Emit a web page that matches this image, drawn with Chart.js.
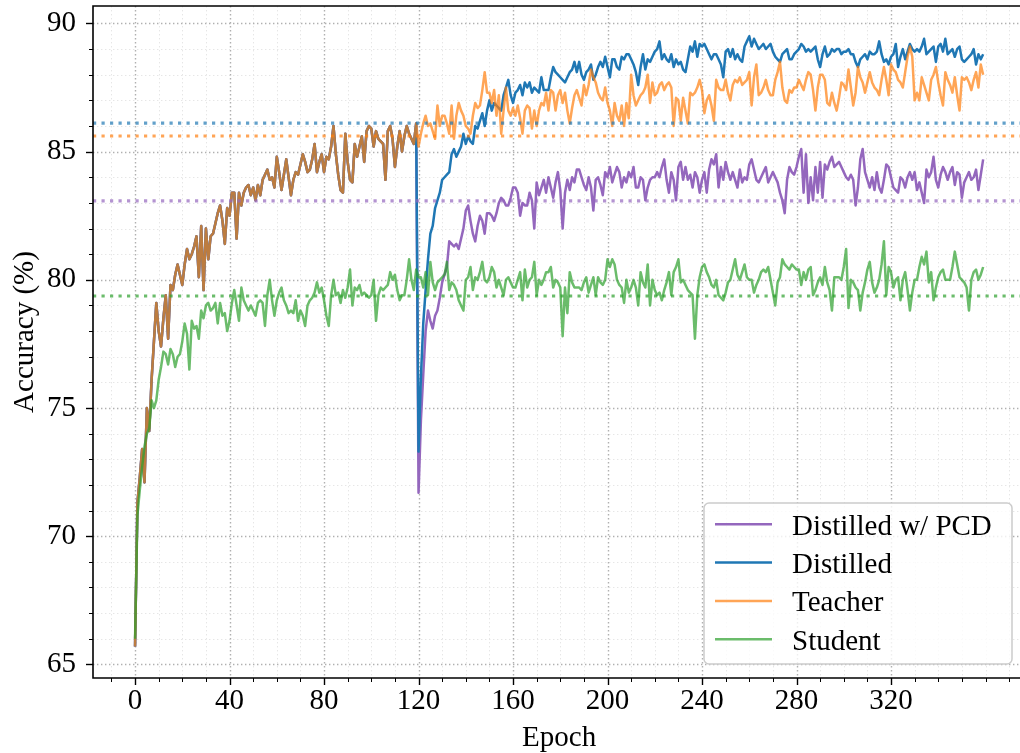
<!DOCTYPE html>
<html>
<head>
<meta charset="utf-8">
<script src="https://cdn.jsdelivr.net/npm/chart.js@4.4.1/dist/chart.umd.min.js"></script>
<style>
  html, body { margin: 0; padding: 0; background: #fff; overflow: hidden; }
  canvas { display: block; }
</style>
</head>
<body>
<canvas id="acc" width="1020" height="753"></canvas>
<script>
// Test accuracy (%) per epoch. Both distilled runs start from the teacher
// weights and switch to distillation at epoch 120.
var switchEpoch = 120;

var teacher = [
  65.7, 71.3, 72.3, 73.4, 72.1, 75.0, 74.1, 76.1, 77.6, 79.1, 78.0, 77.4, 78.5, 79.4, 77.7, 79.8, 79.6, 80.2, 80.6, 80.2,
  79.8, 80.6, 81.2, 80.8, 81.0, 81.3, 81.7, 80.1, 82.1, 79.6, 82.0, 80.8, 81.7, 81.8, 82.2, 82.6, 82.9, 82.3, 81.4, 82.8,
  82.5, 83.4, 83.4, 81.6, 83.4, 82.9, 83.4, 83.6, 83.7, 83.3, 83.6, 83.1, 83.7, 83.3, 83.9, 84.1, 84.3, 83.9, 84.0, 83.6,
  84.8, 84.2, 83.5, 84.1, 84.7, 84.0, 83.3, 83.9, 84.2, 84.1, 84.5, 84.9, 84.6, 84.2, 84.3, 84.7, 85.3, 84.2, 84.6, 84.9,
  84.2, 84.8, 84.7, 85.2, 86.0, 84.9, 84.1, 83.5, 83.4, 85.7, 84.6, 83.9, 83.8, 85.3, 84.8, 85.2, 85.6, 84.6, 85.8, 86.0,
  85.9, 85.2, 85.8, 85.5, 85.4, 85.3, 83.9, 85.8, 86.0, 85.5, 84.4, 85.2, 85.8, 85.0, 85.6, 86.0, 85.7, 85.5, 85.3, 86.1,
  85.2, 85.7, 86.1, 86.4, 86.0, 86.1, 85.8, 85.5, 86.8, 86.0, 86.4, 86.4, 86.1, 85.7, 86.8, 85.5, 86.4, 86.9, 86.6, 86.4,
  86.0, 85.9, 85.7, 86.4, 86.9, 86.7, 86.8, 87.4, 88.1, 87.3, 87.3, 86.9, 87.4, 86.4, 87.2, 85.7, 86.6, 87.5, 86.6, 86.4,
  86.7, 86.4, 86.8, 86.3, 85.7, 86.6, 86.8, 86.7, 85.9, 86.6, 86.0, 86.6, 86.9, 86.8, 87.3, 86.6, 87.4, 87.3, 86.6, 87.2,
  87.4, 86.9, 87.3, 86.6, 86.1, 86.7, 87.2, 87.4, 87.1, 86.8, 87.6, 87.2, 87.6, 88.2, 87.9, 87.7, 87.3, 87.1, 87.0, 87.5,
  86.9, 86.6, 86.0, 86.9, 86.4, 86.2, 86.8, 86.0, 86.9, 86.3, 88.0, 87.2, 86.8, 87.0, 87.2, 87.3, 87.5, 88.0, 86.9, 87.7,
  87.2, 87.3, 87.6, 87.7, 87.4, 87.6, 87.7, 87.5, 86.0, 87.1, 87.0, 86.2, 87.1, 86.6, 86.1, 87.3, 87.2, 87.3, 87.5, 87.8,
  87.4, 86.5, 87.0, 87.2, 86.8, 86.2, 87.8, 87.5, 87.4, 87.4, 87.8, 87.3, 87.0, 87.6, 87.8, 87.7, 87.9, 87.6, 87.7, 87.8,
  88.1, 86.8, 87.9, 88.4, 87.2, 87.3, 87.5, 87.8, 87.4, 87.2, 87.2, 87.8, 88.1, 88.5, 87.5, 87.0, 86.9, 87.4, 87.3, 87.5,
  87.5, 87.8, 87.6, 87.4, 87.8, 88.1, 88.0, 87.4, 86.6, 87.5, 88.0, 88.0, 87.8, 86.9, 86.8, 87.3, 86.9, 86.6, 87.1, 87.7,
  87.6, 87.4, 88.2, 87.5, 86.8, 87.3, 88.3, 87.9, 87.7, 87.3, 87.7, 88.1, 87.7, 87.5, 87.4, 87.2, 87.8, 88.3, 87.8, 87.2,
  88.4, 88.2, 88.1, 87.8, 87.7, 87.5, 88.1, 88.7, 89.1, 88.7, 87.0, 87.3, 87.0, 87.9, 87.6, 87.3, 87.0, 87.8, 88.0, 88.3,
  87.7, 87.2, 86.8, 88.1, 87.8, 87.6, 87.3, 87.9, 87.2, 86.6, 87.9, 87.8, 87.9, 87.7, 87.4, 87.8, 88.1, 87.5, 88.4, 88.0
];

// epochs 120..359
var distilledTail = [
  73.3, 76.2, 78.3, 79.6, 80.8, 81.8, 82.1, 82.8, 83.1, 83.4, 83.9, 84.0, 84.1, 84.2, 84.9, 85.1, 84.8, 85.0, 85.2, 85.7,
  85.3, 85.6, 85.4, 85.3, 86.0, 85.9, 86.2, 86.5, 86.0, 86.6, 87.0, 86.6, 86.9, 86.8, 86.7, 86.6, 87.2, 87.5, 87.8, 87.2,
  86.9, 87.3, 87.4, 87.6, 87.2, 87.7, 87.5, 87.7, 87.3, 87.5, 87.4, 87.3, 87.9, 87.4, 87.4, 87.4, 87.9, 88.3, 88.1, 88.0,
  87.9, 87.8, 87.7, 87.9, 88.1, 88.2, 88.5, 88.1, 88.5, 88.0, 87.8, 88.1, 88.2, 88.4, 87.8, 88.0, 88.3, 88.5, 88.3, 88.7,
  88.3, 87.9, 88.6, 88.6, 88.3, 88.2, 88.7, 88.6, 88.8, 88.8, 88.6, 88.4, 88.1, 87.6, 88.3, 88.8, 88.2, 88.6, 88.5, 88.7,
  88.9, 89.0, 89.3, 88.6, 88.8, 88.6, 88.5, 88.8, 88.3, 88.6, 88.4, 88.5, 88.2, 88.1, 88.6, 89.1, 88.9, 89.3, 88.7, 89.2,
  89.1, 89.2, 89.0, 88.8, 88.6, 88.8, 88.8, 88.6, 88.4, 87.9, 88.9, 89.0, 88.7, 89.0, 88.6, 88.8, 88.6, 88.5, 89.1, 89.3,
  89.5, 89.1, 89.4, 89.2, 89.0, 89.1, 89.2, 89.0, 89.1, 89.2, 88.9, 88.7, 88.6, 88.5, 88.8, 88.9, 89.0, 88.6, 88.6, 88.8,
  88.9, 89.0, 89.2, 89.1, 88.9, 89.0, 88.9, 89.0, 89.1, 88.6, 88.3, 88.8, 89.1, 88.7, 88.8, 89.0, 88.9, 89.0, 89.0, 88.8,
  88.9, 88.9, 89.0, 88.8, 88.8, 88.5, 88.3, 88.6, 88.7, 88.8, 88.6, 88.9, 88.8, 88.8, 88.9, 89.3, 88.8, 88.5, 88.6, 88.4,
  88.7, 88.8, 89.2, 88.3, 88.7, 89.0, 88.6, 88.9, 89.2, 89.0, 88.9, 89.0, 88.9, 89.1, 89.4, 88.8, 88.9, 89.0, 89.1, 88.5,
  89.1, 89.2, 88.9, 89.4, 88.8, 88.9, 89.0, 88.7, 89.0, 89.1, 88.6, 88.5, 88.6, 88.7, 88.8, 89.0, 88.4, 88.8, 88.6, 88.8
];

// epochs 120..359
var pcdTail = [
  71.7, 74.5, 76.3, 78.0, 78.8, 78.4, 78.1, 78.6, 78.8, 79.3, 79.9, 80.2, 80.5, 81.5, 81.4, 81.3, 81.4, 81.2, 81.6, 82.0,
  82.7, 82.9, 82.3, 81.8, 81.5, 82.1, 82.5, 82.3, 81.8, 82.6, 82.6, 82.5, 82.3, 82.6, 83.0, 83.2, 83.1, 82.9, 82.9, 83.2,
  83.6, 83.6, 83.4, 82.5, 83.0, 82.9, 82.9, 83.4, 83.1, 82.0, 83.8, 83.3, 83.6, 83.9, 83.4, 84.0, 83.6, 83.2, 83.8, 84.2,
  83.5, 82.0, 83.4, 83.9, 83.5, 84.0, 83.8, 84.3, 84.3, 84.0, 83.7, 83.5, 84.0, 83.6, 82.7, 83.9, 84.0, 83.7, 83.3, 84.2,
  84.0, 84.4, 83.8, 84.1, 84.4, 84.2, 83.6, 84.0, 83.8, 84.2, 84.0, 84.4, 83.6, 83.6, 84.0, 83.9, 83.1, 83.6, 83.9, 84.0,
  84.0, 84.2, 84.0, 84.4, 84.7, 83.9, 83.4, 84.2, 83.9, 83.1, 84.4, 84.6, 83.9, 84.4, 83.9, 84.1, 83.6, 84.2, 84.0, 83.4,
  83.9, 84.2, 83.4, 84.3, 84.7, 84.5, 84.9, 83.6, 84.4, 83.9, 84.6, 84.2, 83.9, 84.2, 83.9, 83.6, 84.3, 83.8, 84.0, 83.9,
  84.5, 84.7, 84.3, 83.9, 83.8, 84.0, 84.2, 84.4, 83.8, 84.0, 84.2, 84.0, 83.8, 83.4, 83.1, 82.6, 83.9, 84.4, 84.2, 84.1,
  84.4, 84.8, 85.1, 83.4, 84.9, 83.0, 84.0, 83.1, 84.4, 83.4, 84.6, 83.2, 84.5, 84.3, 84.6, 84.8, 84.4, 84.5, 84.6, 84.4,
  84.2, 84.0, 83.9, 84.1, 83.9, 82.9, 83.6, 84.7, 85.1, 84.2, 83.9, 83.6, 84.0, 83.5, 84.2, 83.6, 83.4, 83.9, 84.5, 84.4,
  84.0, 83.6, 83.5, 83.4, 84.0, 83.9, 83.6, 84.0, 84.2, 83.9, 84.2, 83.5, 83.8, 83.4, 83.0, 84.3, 84.0, 84.2, 84.8, 83.9,
  83.6, 84.1, 84.4, 84.2, 83.9, 84.2, 84.4, 83.7, 84.2, 84.1, 83.2, 83.8, 84.0, 84.2, 83.9, 84.0, 84.3, 83.5, 84.1, 84.7
];

var student = [
  66.0, 70.8, 71.8, 72.7, 73.5, 74.0, 74.2, 75.3, 75.0, 75.3, 76.1, 76.6, 77.2, 77.1, 76.7, 77.3, 77.1, 76.6, 77.0, 77.1,
  77.6, 78.3, 77.9, 76.5, 78.4, 78.1, 78.2, 77.7, 78.8, 78.5, 79.0, 79.1, 78.8, 78.9, 79.1, 78.3, 79.1, 78.6, 78.7, 78.0,
  78.4, 79.1, 79.6, 79.0, 78.4, 79.7, 79.2, 79.0, 78.8, 79.0, 78.8, 78.6, 79.1, 79.2, 79.1, 78.2, 79.4, 80.0, 79.2, 78.6,
  79.2, 79.5, 79.7, 79.2, 79.0, 78.7, 78.8, 78.7, 79.2, 78.4, 78.8, 78.6, 78.2, 79.0, 79.2, 79.3, 79.5, 79.9, 79.5, 79.7,
  79.2, 78.6, 78.2, 79.4, 80.0, 79.4, 79.5, 79.1, 79.6, 79.3, 79.7, 80.4, 79.0, 79.7, 79.6, 79.8, 79.4, 79.5, 79.4, 79.3,
  79.4, 80.0, 78.4, 79.4, 79.7, 79.6, 79.7, 79.8, 80.3, 80.0, 80.2, 79.6, 79.2, 79.4, 79.4, 80.0, 80.8, 80.0, 79.6, 80.4,
  80.1, 80.1, 79.7, 80.3, 79.4, 80.7, 79.9, 79.6, 79.9, 80.0, 80.1, 80.2, 80.7, 79.6, 79.9, 79.8, 79.6, 79.2, 79.0, 78.8,
  80.0, 80.1, 80.5, 79.6, 80.1, 80.0, 80.3, 80.7, 80.0, 79.9, 80.1, 80.5, 80.3, 79.7, 80.0, 79.7, 79.4, 80.0, 80.1, 79.9,
  79.7, 79.7, 80.0, 80.3, 79.2, 80.4, 79.7, 80.0, 80.1, 80.7, 79.4, 80.0, 79.8, 80.0, 80.3, 80.3, 80.5, 79.7, 80.0, 79.9,
  79.7, 77.8, 79.7, 78.7, 80.3, 79.9, 79.7, 79.7, 79.7, 79.6, 79.9, 80.1, 79.5, 79.8, 80.1, 79.4, 80.1, 79.9, 79.8, 80.0,
  80.8, 80.5, 80.8, 80.6, 80.0, 79.8, 79.7, 79.1, 80.0, 79.5, 79.7, 80.0, 79.7, 79.0, 80.3, 79.9, 79.7, 80.6, 79.0, 80.0,
  79.6, 79.4, 79.5, 79.2, 79.6, 79.9, 80.3, 79.4, 80.3, 80.5, 80.8, 79.9, 80.0, 79.8, 79.6, 79.5, 79.4, 77.7, 79.4, 80.1,
  80.5, 80.6, 80.3, 80.1, 79.8, 79.7, 80.0, 79.4, 79.3, 79.2, 79.5, 79.9, 80.0, 80.4, 80.8, 80.2, 80.0, 80.3, 80.6, 80.1,
  80.0, 80.0, 79.5, 79.8, 80.0, 80.3, 80.4, 80.3, 80.5, 80.0, 79.5, 79.0, 79.9, 80.1, 80.8, 80.6, 80.5, 80.4, 80.6, 80.5,
  80.4, 80.4, 79.8, 80.3, 80.0, 80.4, 80.5, 79.4, 79.6, 79.9, 80.1, 79.8, 80.5, 79.9, 79.6, 78.8, 80.1, 80.1, 80.1, 80.0,
  80.5, 81.2, 78.9, 80.0, 79.9, 79.7, 79.6, 78.8, 79.5, 79.9, 80.4, 80.7, 79.9, 79.5, 79.7, 80.0, 80.6, 81.5, 79.4, 80.5,
  80.3, 79.7, 80.0, 80.1, 79.2, 80.0, 80.3, 79.6, 78.8, 79.5, 80.0, 80.0, 80.5, 80.9, 80.6, 81.1, 79.9, 80.3, 79.2, 79.7,
  80.1, 80.3, 80.4, 80.0, 80.0, 80.0, 80.5, 81.1, 80.6, 80.1, 80.0, 79.9, 79.7, 78.8, 80.0, 80.3, 80.4, 80.0, 80.2, 80.5
];

// legend order; baselines drawn as dotted horizontal lines in the same order
var seriesNames = ["Distilled w/ PCD", "Distilled", "Teacher", "Student"];
var baselines = [83.08, 86.11, 85.61, 79.37];
var lineColors = ["rgba(148,103,189,1)", "rgba(31,119,180,1)", "rgba(255,127,14,0.7)", "rgba(44,160,44,0.7)"];
var dotColors = ["rgba(148,103,189,0.7)", "rgba(31,119,180,0.7)", "rgba(255,127,14,0.7)", "rgba(44,160,44,0.7)"];

var xTicks = [0, 40, 80, 120, 160, 200, 240, 280, 320];
var yTicks = [65, 70, 75, 80, 85, 90];
var xMin = -17.8, xMax = 374.6, yMin = 64.47, yMax = 90.68;

var FONT = "'Liberation Serif', 'Times New Roman', serif";

function toPoints(arr) {
  return arr.map(function (v, i) { return { x: i, y: v }; });
}

var distilled = teacher.slice(0, switchEpoch).concat(distilledTail);
var pcd = teacher.slice(0, switchEpoch).concat(pcdTail);
var curves = [pcd, distilled, teacher, student];

var datasets = [];
// first series ends up at the bottom of the stack, like plotting order
curves.forEach(function (c, i) {
  datasets.push({
    label: seriesNames[i],
    data: toPoints(c),
    borderColor: lineColors[i],
    borderWidth: 2.5,
    pointRadius: 0,
    tension: 0,
    borderJoinStyle: "round",
    order: 10 - i
  });
});
baselines.forEach(function (b, i) {
  datasets.push({
    label: "_base" + i,
    data: [{ x: xMin, y: b }, { x: xMax, y: b }],
    borderColor: dotColors[i],
    borderWidth: 3.2,
    borderDash: [3.2, 5.3],
    borderCapStyle: "butt",
    pointRadius: 0,
    order: 0
  });
});

// grid, minor ticks, spines, axis titles and legend box
var decor = {
  id: "decor",
  beforeDatasetsDraw: function (chart) {
    var ctx = chart.ctx, a = chart.chartArea, xs = chart.scales.x, ys = chart.scales.y;
    var v, p;
    ctx.save();
    ctx.lineWidth = 1;
    ctx.strokeStyle = "#e6e6e6";
    ctx.setLineDash([1.4, 2.6]);
    for (v = -10; v <= 370; v += 10) {
      if (xTicks.indexOf(v) >= 0) continue;
      p = Math.round(xs.getPixelForValue(v)) + 0.5;
      ctx.beginPath(); ctx.moveTo(p, a.top); ctx.lineTo(p, a.bottom); ctx.stroke();
    }
    for (v = 65; v <= 90; v += 1) {
      if (yTicks.indexOf(v) >= 0) continue;
      p = Math.round(ys.getPixelForValue(v)) + 0.5;
      ctx.beginPath(); ctx.moveTo(a.left, p); ctx.lineTo(a.right, p); ctx.stroke();
    }
    ctx.strokeStyle = "#b0b0b0";
    ctx.lineWidth = 1.4;
    xTicks.forEach(function (t) {
      var q = Math.round(xs.getPixelForValue(t)) + 0.5;
      ctx.beginPath(); ctx.moveTo(q, a.top); ctx.lineTo(q, a.bottom); ctx.stroke();
    });
    yTicks.forEach(function (t) {
      var q = Math.round(ys.getPixelForValue(t)) + 0.5;
      ctx.beginPath(); ctx.moveTo(a.left, q); ctx.lineTo(a.right, q); ctx.stroke();
    });
    ctx.restore();
  },
  afterDraw: function (chart) {
    var ctx = chart.ctx, a = chart.chartArea, xs = chart.scales.x, ys = chart.scales.y;
    var v, p;
    ctx.save();
    ctx.strokeStyle = "#000";
    ctx.setLineDash([]);
    // tick marks
    for (v = -10; v <= 370; v += 10) {
      var major = xTicks.indexOf(v) >= 0;
      p = Math.round(xs.getPixelForValue(v)) + 0.5;
      ctx.lineWidth = major ? 1.4 : 1;
      ctx.beginPath(); ctx.moveTo(p, a.bottom); ctx.lineTo(p, a.bottom + (major ? 7 : 4)); ctx.stroke();
    }
    for (v = 65; v <= 90; v += 1) {
      var majorY = yTicks.indexOf(v) >= 0;
      p = Math.round(ys.getPixelForValue(v)) + 0.5;
      ctx.lineWidth = majorY ? 1.4 : 1;
      ctx.beginPath(); ctx.moveTo(a.left, p); ctx.lineTo(a.left - (majorY ? 7 : 4), p); ctx.stroke();
    }
    // spines (right one falls outside the canvas)
    ctx.lineWidth = 1.6;
    ctx.beginPath();
    ctx.moveTo(a.right, a.top); ctx.lineTo(a.left, a.top);
    ctx.lineTo(a.left, a.bottom); ctx.lineTo(a.right, a.bottom);
    ctx.stroke();

    // axis titles
    ctx.fillStyle = "#000";
    ctx.font = "29px " + FONT;
    ctx.textAlign = "center";
    ctx.textBaseline = "alphabetic";
    ctx.fillText("Epoch", xs.getPixelForValue(179.5), 746);
    ctx.save();
    ctx.translate(33, 332);
    ctx.rotate(-Math.PI / 2);
    ctx.fillText("Accuracy (%)", 0, 0);
    ctx.restore();

    // legend
    var bx = 704, by = 503, bw = 308, bh = 161, r = 5;
    ctx.beginPath();
    ctx.moveTo(bx + r, by);
    ctx.arcTo(bx + bw, by, bx + bw, by + bh, r);
    ctx.arcTo(bx + bw, by + bh, bx, by + bh, r);
    ctx.arcTo(bx, by + bh, bx, by, r);
    ctx.arcTo(bx, by, bx + bw, by, r);
    ctx.closePath();
    ctx.fillStyle = "rgba(255,255,255,0.8)";
    ctx.fill();
    ctx.lineWidth = 1.5;
    ctx.strokeStyle = "#cccccc";
    ctx.stroke();
    ctx.textAlign = "left";
    seriesNames.forEach(function (name, i) {
      var cy = 524.3 + i * 38.3;
      ctx.strokeStyle = lineColors[i];
      ctx.lineWidth = 2.5;
      ctx.beginPath(); ctx.moveTo(715, cy); ctx.lineTo(772, cy); ctx.stroke();
      ctx.fillStyle = "#000";
      ctx.fillText(name, 792, cy + 10.5);
    });
    ctx.restore();
  }
};

new Chart(document.getElementById("acc"), {
  type: "line",
  data: { datasets: datasets },
  options: {
    responsive: false,
    animation: false,
    devicePixelRatio: 1,
    layout: { padding: { top: 6, left: 0, right: 0, bottom: 0 } },
    plugins: { legend: { display: false }, tooltip: { enabled: false } },
    scales: {
      x: {
        type: "linear",
        min: xMin,
        max: xMax,
        grid: { display: false, drawTicks: false },
        border: { display: false },
        ticks: { font: { family: FONT, size: 29 }, color: "#000", padding: 6, maxRotation: 0, autoSkip: false },
        afterBuildTicks: function (s) { s.ticks = xTicks.map(function (t) { return { value: t }; }); },
        afterFit: function (s) { s.height = 75; s.paddingLeft = 0; s.paddingRight = 0; }
      },
      y: {
        min: yMin,
        max: yMax,
        grid: { display: false, drawTicks: false },
        border: { display: false },
        ticks: { font: { family: FONT, size: 29 }, color: "#000", padding: 17, autoSkip: false },
        afterBuildTicks: function (s) { s.ticks = yTicks.map(function (t) { return { value: t }; }); },
        afterFit: function (s) { s.width = 93; s.paddingTop = 0; s.paddingBottom = 0; }
      }
    }
  },
  plugins: [decor]
});
</script>
</body>
</html>
